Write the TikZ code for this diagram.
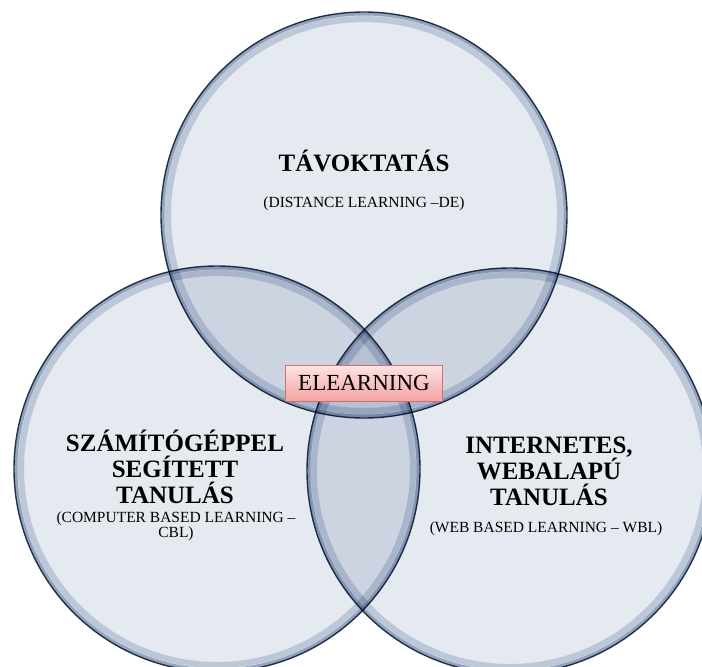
\documentclass[tikz,border=0pt]{standalone}
\usepackage{fontspec}
\setmainfont{Liberation Serif}
\usetikzlibrary{positioning}
\definecolor{vennfill}{RGB}{229,233,240}
\definecolor{vennrim}{RGB}{36,54,80}
\definecolor{vennglowa}{RGB}{165,180,201}
\definecolor{vennglowb}{RGB}{210,218,229}
\definecolor{boxtop}{RGB}{255,228,228}
\definecolor{boxbot}{RGB}{244,162,162}
\definecolor{boxline}{RGB}{204,112,112}
\tikzset{
    venn/.style={
        circle,
        minimum size=406pt,
        inner sep=0pt,
        fill=vennfill,
        draw=vennrim,
        line width=1.4pt,
        blend mode=multiply
    },
    glowa/.style={draw=vennglowa, line width=3pt, blend mode=multiply},
    glowb/.style={draw=vennglowb, line width=6pt, blend mode=multiply},
    title/.style={
        align=center,
        anchor=base,
        inner sep=0pt,
        font=\fontsize{25}{26}\selectfont\bfseries
    },
    subtitle/.style={
        align=center,
        anchor=base,
        inner sep=0pt,
        font=\fontsize{15.5}{15}\selectfont
    },
    elbox/.style={
        rectangle,
        draw=boxline,
        top color=boxtop,
        bottom color=boxbot,
        minimum width=157pt,
        minimum height=36pt,
        inner sep=0pt,
        font=\fontsize{23}{24}\selectfont
    }
}

\begin{document}
\begin{tikzpicture}[x=1pt, y=-1pt]
    \useasboundingbox (0,0) rectangle (702,667);
    \clip (0,0) rectangle (702,667);
    \fill[white] (0,0) rectangle (702,667);

    % Circles
    \node (tav) [venn] at (364,215) {};
    \node (cbl) [venn] at (217,469) {};
    \node (wbl) [venn] at (510,471) {};

    % Inner rims
    \foreach \c in {tav,cbl,wbl} {
        \draw[glowa] (\c.center) circle[radius=201pt];
        \draw[glowb] (\c.center) circle[radius=196pt];
    }

    % Labels (base = last line)
    \node (tavtitle) [title] at (364,171) {TÁVOKTATÁS};
    \node (tavsub) [subtitle] at (364,207) {(DISTANCE LEARNING –DE)};

    \node (cbltitle) [title] at (175,503) {SZÁMÍTÓGÉPPEL\\SEGÍTETT\\TANULÁS};
    \node (cblsub) [subtitle] at (176,537) {(COMPUTER BASED LEARNING –\\CBL)};

    \node (wbltitle) [title] at (549,505) {INTERNETES,\\WEBALAPÚ\\TANULÁS};
    \node (wblsub) [subtitle] at (546,532) {(WEB BASED LEARNING – WBL)};

    % Centre
    \node (elearning) [elbox] at (364,383) {ELEARNING};
\end{tikzpicture}
\end{document}
